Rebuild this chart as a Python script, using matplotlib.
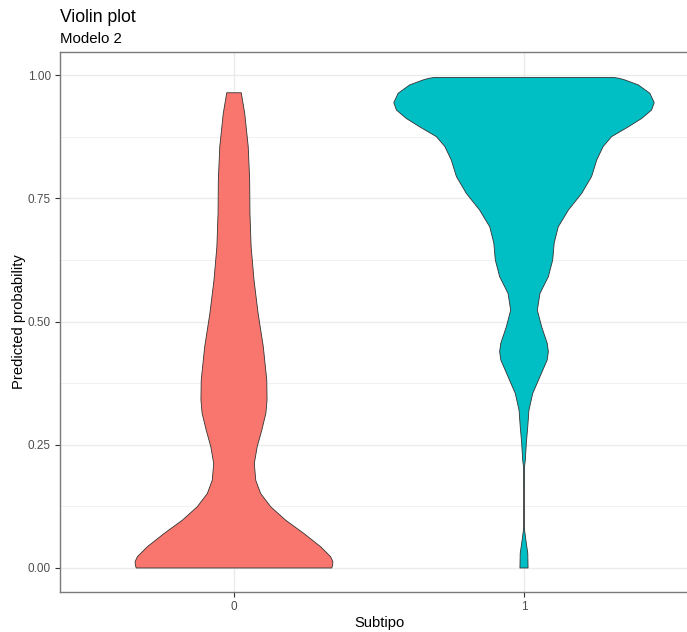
import matplotlib.pyplot as plt
import numpy as np

plt.rcParams['font.family'] = ['Liberation Sans', 'DejaVu Sans']

# violin outlines: probability level and half-width (in category units)
subtipo = ['0', '1']
fill_colors = ['#F8766D', '#00BFC4']

y_0 = [0.964, 0.922, 0.855, 0.787, 0.719, 0.652, 0.584, 0.517, 0.449, 0.381,
       0.341, 0.314, 0.280, 0.246, 0.212, 0.178, 0.151, 0.124, 0.097, 0.070,
       0.043, 0.023, 0.013, 0.005, 0.0]
hw_0 = [0.025, 0.037, 0.049, 0.054, 0.055, 0.059, 0.069, 0.083, 0.101, 0.113,
        0.114, 0.110, 0.096, 0.080, 0.070, 0.075, 0.092, 0.127, 0.178, 0.241,
        0.299, 0.333, 0.341, 0.340, 0.337]

y_1 = [0.995, 0.993, 0.990, 0.980, 0.963, 0.944, 0.929, 0.912, 0.895, 0.875,
       0.855, 0.828, 0.794, 0.760, 0.726, 0.692, 0.659, 0.625, 0.591, 0.557,
       0.523, 0.489, 0.456, 0.439, 0.422, 0.388, 0.354, 0.320, 0.287, 0.253,
       0.219, 0.202, 0.151, 0.084, 0.050, 0.030, 0.0]
hw_1 = [0.311, 0.330, 0.348, 0.394, 0.434, 0.449, 0.440, 0.406, 0.360, 0.302,
        0.273, 0.251, 0.233, 0.199, 0.153, 0.118, 0.104, 0.099, 0.084, 0.055,
        0.046, 0.061, 0.080, 0.084, 0.080, 0.055, 0.030, 0.017, 0.013, 0.008,
        0.0045, 0.001, 0.0, 0.0003, 0.008, 0.013, 0.014]

profiles = [(y_0, hw_0), (y_1, hw_1)]

fig = plt.figure(figsize=(6.87, 6.32), dpi=100)
ax = fig.add_axes([60 / 687, 40 / 632, 638 / 687, 540 / 632])

ax.set_xlim(-0.6, 1.6)
ax.set_ylim(-0.0487, 1.0467)

# theme_bw style grid
for v in [0.125, 0.375, 0.625, 0.875]:
    ax.axhline(v, color='#EBEBEB', lw=0.5, zorder=0)
for v in [0, 0.25, 0.5, 0.75, 1.0]:
    ax.axhline(v, color='#EBEBEB', lw=1.0, zorder=0)
for v in [0, 1]:
    ax.axvline(v, color='#EBEBEB', lw=1.0, zorder=0)

for i, (yy, hw) in enumerate(profiles):
    yy = np.array(yy)
    hw = np.array(hw)
    xs = np.concatenate([i + hw, (i - hw)[::-1]])
    ys = np.concatenate([yy, yy[::-1]])
    ax.fill(xs, ys, facecolor=fill_colors[i], edgecolor='#333333',
            lw=0.6, zorder=2, joinstyle='round')

ax.set_xticks([0, 1])
ax.set_xticklabels(subtipo)
ax.set_yticks([0, 0.25, 0.5, 0.75, 1.0])
ax.set_yticklabels(['0.00', '0.25', '0.50', '0.75', '1.00'])
ax.tick_params(colors='#333333', labelcolor='#4D4D4D', labelsize=8.5,
               length=3.5, width=0.8, pad=3)

for s in ax.spines.values():
    s.set_color('#7a7a7a')
    s.set_linewidth(1.0)

ax.set_xlabel('Subtipo', fontsize=10.6, labelpad=2)
ax.set_ylabel('Predicted probability', fontsize=10.6, labelpad=1)

fig.text(60 / 687, 1 - 22 / 632, 'Violin plot', fontsize=12.7,
         ha='left', va='baseline')
fig.text(60 / 687, 1 - 43 / 632, 'Modelo 2', fontsize=10.8,
         ha='left', va='baseline')

fig.savefig('out.png', dpi=100)
